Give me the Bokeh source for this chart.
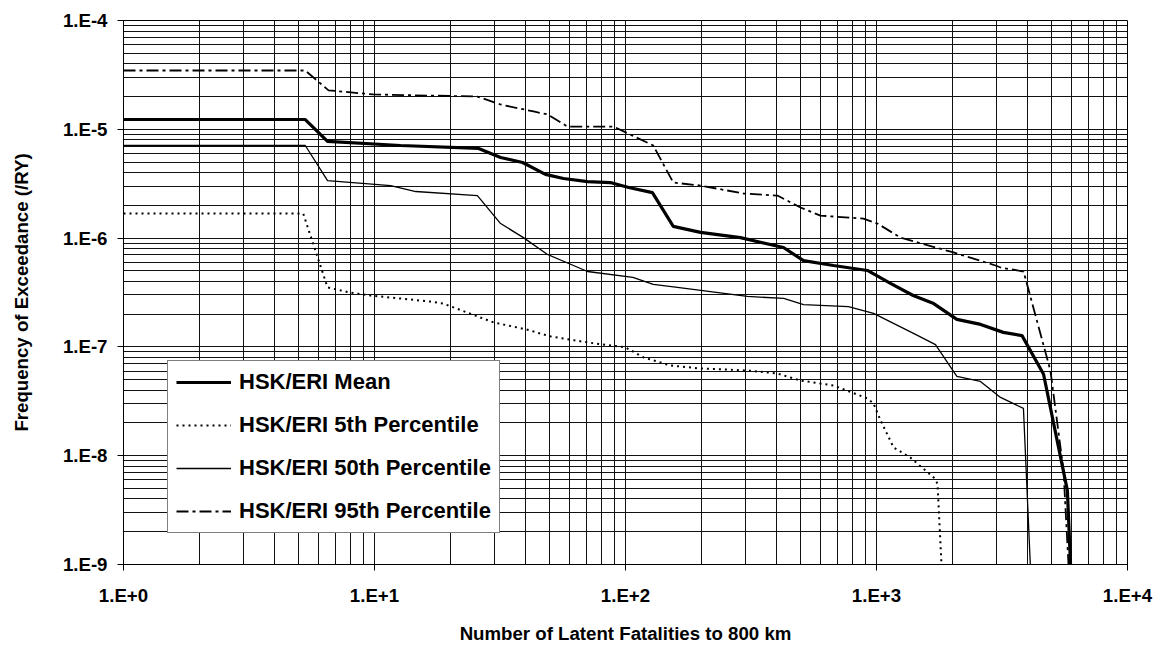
from bokeh.plotting import figure
from bokeh.models import Range1d, FixedTicker, CustomJSTickFormatter
from bokeh.embed import file_html
from bokeh.resources import INLINE

# ---- data ----
mean_x = [1, 5.3, 6.5, 12.7, 26, 31.8, 38.9, 48, 56.6, 70.6, 87, 103, 128, 155, 199,
          287, 426, 512, 674, 920, 1137, 1400, 1690, 2090, 2600, 3200, 3800, 4630, 5760, 5930]
mean_y = [1.23e-5, 1.23e-5, 7.73e-6, 7.10e-6, 6.67e-6, 5.51e-6, 4.95e-6, 3.85e-6, 3.53e-6,
          3.31e-6, 3.24e-6, 2.92e-6, 2.62e-6, 1.28e-6, 1.13e-6, 1.01e-6, 8.2e-7, 6.2e-7,
          5.6e-7, 5.04e-7, 3.83e-7, 2.97e-7, 2.5e-7, 1.79e-7, 1.61e-7, 1.36e-7, 1.27e-7,
          5.6e-8, 4.8e-9, 1e-9]

p05_x = [1, 5.2, 6.5, 8.0, 9.6, 16.7, 18.8, 29.8, 40.7, 50, 70.6, 100, 118, 151, 199,
         306, 403, 498, 674, 920, 973, 1038, 1170, 1365, 1690, 1750, 1815]
p05_y = [1.68e-6, 1.68e-6, 3.52e-7, 3.16e-7, 2.97e-7, 2.61e-7, 2.5e-7, 1.68e-7, 1.44e-7,
         1.25e-7, 1.1e-7, 9.9e-8, 8.0e-8, 6.75e-8, 6.33e-8, 6.07e-8, 5.7e-8, 4.91e-8,
         4.42e-8, 3.36e-8, 3.02e-8, 2.11e-8, 1.19e-8, 9.6e-9, 6.3e-9, 5.55e-9, 1e-9]

p50_x = [1, 5.3, 6.5, 11.6, 14.6, 25.7, 31.8, 39.2, 48.9, 70.6, 107, 129, 161, 306, 427,
         512, 773, 973, 1404, 1718, 2090, 2595, 3120, 3850, 4100]
p50_y = [7.1e-6, 7.1e-6, 3.38e-6, 3.04e-6, 2.68e-6, 2.46e-6, 1.36e-6, 1.01e-6, 7.07e-7,
         4.93e-7, 4.35e-7, 3.75e-7, 3.52e-7, 2.91e-7, 2.79e-7, 2.45e-7, 2.35e-7, 2.03e-7,
         1.33e-7, 1.05e-7, 5.35e-8, 4.81e-8, 3.43e-8, 2.72e-8, 1e-9]

p95_x = [1, 5.3, 6.56, 9.9, 25.7, 31.8, 43, 48.9, 58.7, 89.6, 129, 155, 199, 295, 403,
         498, 598, 887, 1009, 1247, 2027, 2980, 3120, 3855, 4930, 5560, 5820]
p95_y = [3.47e-5, 3.47e-5, 2.28e-5, 2.09e-5, 2.0e-5, 1.69e-5, 1.46e-5, 1.37e-5, 1.06e-5,
         1.06e-5, 7.1e-6, 3.24e-6, 3.04e-6, 2.57e-6, 2.46e-6, 1.91e-6, 1.61e-6, 1.51e-6,
         1.36e-6, 1.01e-6, 7.38e-7, 5.6e-7, 5.37e-7, 4.93e-7, 6.07e-8, 7.3e-9, 1e-9]

x_major = [1, 10, 100, 1000, 10000]
y_major = [1e-9, 1e-8, 1e-7, 1e-6, 1e-5, 1e-4]

labels = ["HSK/ERI Mean", "HSK/ERI 5th Percentile", "HSK/ERI 50th Percentile",
          "HSK/ERI 95th Percentile"]

# ---- figure ----
FONT = "Liberation Sans"
p = figure(width=1167, height=647, x_axis_type="log", y_axis_type="log",
           x_range=Range1d(1, 1e4), y_range=Range1d(1e-9, 1e-4),
           output_backend="svg", toolbar_location=None,
           min_border_left=123, min_border_right=40, min_border_top=20, min_border_bottom=83)
p.background_fill_color = "white"
p.border_fill_color = "white"
p.outline_line_color = "black"
p.outline_line_width = 1

x_minor = [m * d for d in x_major[:-1] for m in range(2, 10)]
y_minor = [m * d for d in y_major[:-1] for m in range(2, 10)]
p.xaxis.ticker = FixedTicker(ticks=x_major, minor_ticks=x_minor)
p.yaxis.ticker = FixedTicker(ticks=y_major, minor_ticks=y_minor)

fmt = CustomJSTickFormatter(code="""
const e = Math.round(Math.log10(tick));
return '1.E' + (e >= 0 ? '+' : '') + e;
""")
for ax in (p.xaxis[0], p.yaxis[0]):
    ax.formatter = fmt
    ax.axis_line_color = "black"
    ax.axis_line_width = 1
    ax.major_tick_line_color = "black"
    ax.major_tick_in = 0
    ax.major_tick_out = 6
    ax.minor_tick_line_color = None
    ax.major_label_text_font = FONT
    ax.major_label_text_font_style = "bold"
    ax.major_label_text_font_size = "14pt"
    ax.major_label_text_color = "black"
    ax.axis_label_text_font = FONT
    ax.axis_label_text_font_style = "bold"
    ax.axis_label_text_font_size = "14pt"
    ax.axis_label_text_color = "black"

p.xaxis.axis_label = "Number of Latent Fatalities to 800 km"
p.yaxis.axis_label = "Frequency of Exceedance (/RY)"
p.xaxis.major_label_standoff = 14
p.yaxis.major_label_standoff = 10
p.xaxis.axis_label_standoff = 14
p.yaxis.axis_label_standoff = 28

for g in (p.xgrid[0], p.ygrid[0]):
    g.grid_line_color = "#111111"
    g.grid_line_width = 1
    g.minor_grid_line_color = "#111111"
    g.minor_grid_line_width = 1

# ---- series ----
p.line(mean_x, mean_y, line_color="black", line_width=3.2, legend_label=labels[0])
p.line(p05_x, p05_y, line_color="black", line_width=2, line_dash="2 4", legend_label=labels[1])
p.line(p50_x, p50_y, line_color="black", line_width=1.3, legend_label=labels[2])
p.line(p95_x, p95_y, line_color="black", line_width=1.8, line_dash="12 4 3 4", legend_label=labels[3])

lg = p.legend[0]
lg.location = (44, 31)
lg.label_text_font = FONT
lg.label_text_font_style = "bold"
lg.label_text_font_size = "16.5pt"
lg.label_text_color = "black"
lg.glyph_width = 55
lg.glyph_height = 20
lg.label_standoff = 8
lg.label_height = 20
lg.spacing = 17
lg.padding = 8
lg.margin = 0
lg.border_line_color = "black"
lg.border_line_width = 1
lg.background_fill_color = "white"
lg.background_fill_alpha = 1

open("out.html", "w").write(file_html(p, INLINE))
